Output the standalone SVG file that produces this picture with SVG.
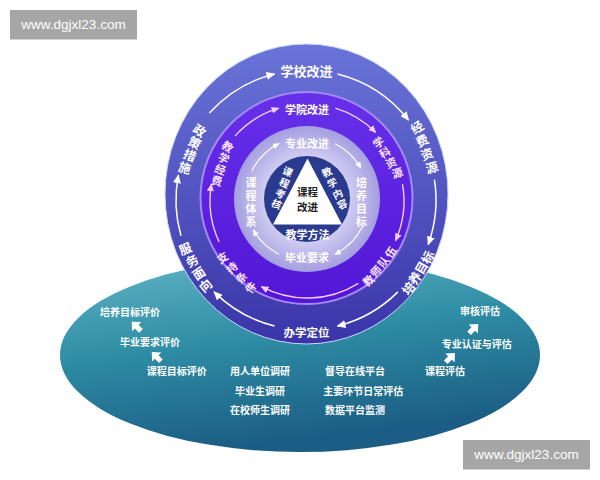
<svg xmlns="http://www.w3.org/2000/svg" width="600" height="480" viewBox="0 0 600 480">
<defs>
<style>
.t{font-family:"Noto Sans CJK SC","Noto Sans CJK JP",sans-serif;font-weight:700;text-anchor:middle;dominant-baseline:central;fill:#fff}
.o{font-size:12.5px}
.top{font-size:13px}
.p{font-size:11px;fill:#fbe4ff}
.l{font-size:11px}
.v{writing-mode:vertical-rl;letter-spacing:2px}
.i{font-size:10px}
.e{font-size:10px}
.wm{font-family:"Liberation Sans",Arial,sans-serif;font-size:13.5px;fill:#fff;text-anchor:middle;dominant-baseline:central}
.aw{fill:none;stroke:#fff;stroke-width:1.5;marker-end:url(#ah)}
.ap{fill:none;stroke:#f6ccff;stroke-width:1.4;marker-end:url(#ahp)}
.al{fill:none;stroke:#fff;stroke-width:1.2;marker-end:url(#ahl)}
.blk{fill:#fff}
</style>
<marker id="ah" markerUnits="userSpaceOnUse" markerWidth="9" markerHeight="8" refX="8" refY="4" orient="auto"><path d="M0,0 L9,4 L0,8 z" fill="#fff"/></marker>
<marker id="ahp" markerUnits="userSpaceOnUse" markerWidth="8" markerHeight="7" refX="7" refY="3.5" orient="auto"><path d="M0,0 L8,3.5 L0,7 z" fill="#f6ccff"/></marker>
<marker id="ahl" markerUnits="userSpaceOnUse" markerWidth="7" markerHeight="6" refX="6" refY="3" orient="auto"><path d="M0,0 L7,3 L0,6 z" fill="#fff"/></marker>
<linearGradient id="gTeal" x1="0" y1="0" x2="0.3" y2="1">
<stop offset="0" stop-color="#62b6c6"/>
<stop offset="0.5" stop-color="#2e8ca4"/>
<stop offset="1" stop-color="#1b5d84"/>
</linearGradient>
<linearGradient id="gOuter" x1="0" y1="0" x2="0" y2="1">
<stop offset="0" stop-color="#6a74d8"/>
<stop offset="1" stop-color="#3a34a8"/>
</linearGradient>
<linearGradient id="gPurple" x1="0" y1="0" x2="0" y2="1">
<stop offset="0" stop-color="#6630ea"/>
<stop offset="1" stop-color="#5316d6"/>
</linearGradient>
<radialGradient id="gLav" cx="307" cy="199" r="74" gradientUnits="userSpaceOnUse">
<stop offset="0.55" stop-color="#d2cff3"/>
<stop offset="1" stop-color="#a39ddf"/>
</radialGradient>
</defs>
<rect width="600" height="480" fill="#fff"/>

<g id="base-ellipse">
<ellipse cx="300" cy="355" rx="240" ry="97" fill="url(#gTeal)"/>
</g>

<g id="rings">
<ellipse cx="306.5" cy="194" rx="141.5" ry="150" fill="url(#gOuter)" stroke="#c9d6ff" stroke-width="1"/>
<circle cx="306.5" cy="198" r="106" fill="url(#gPurple)" stroke="#a58af2" stroke-width="2"/>
<circle cx="307" cy="199" r="73" fill="url(#gLav)"/>
<circle cx="307" cy="199" r="43" fill="#2a3a8f"/>
<polygon points="307.5,158.5 273,224.5 342,224.5" fill="#fff"/>
</g>

<g id="connectors">
<path class="aw" d="M209.4,113 A130,130 0 0 1 274.5,73.9"/>
<path class="aw" d="M337.5,73.9 A130,130 0 0 1 408.4,120"/>
<path class="aw" d="M434.4,179.7 A130,130 0 0 1 428.2,244.5"/>
<path class="aw" d="M397.9,291.9 A130,130 0 0 1 337.5,326.1"/>
<path class="aw" d="M274.5,326.1 A130,130 0 0 1 214.1,291.9"/>
<path class="aw" d="M181,235.8 A130,130 0 0 1 178.4,175.2"/>

<path class="ap" d="M234.9,136.1 A97,97 0 0 1 278.6,108.2"/>
<path class="ap" d="M335.4,108.2 A97,97 0 0 1 375.6,132.4"/>
<path class="ap" d="M402.5,184.2 A97,97 0 0 1 395.6,240.5"/>
<path class="ap" d="M358.4,283.3 A97,97 0 0 1 261.5,286.7"/>
<path class="ap" d="M219.1,242 A97,97 0 0 1 211.5,184.2"/>

<path class="al" d="M251.8,170.9 A62,62 0 0 1 278.9,143.8"/>
<path class="al" d="M335.1,143.8 A62,62 0 0 1 360.7,168"/>
<path class="al" d="M362.2,227.1 A62,62 0 0 1 335.1,254.2"/>
<path class="al" d="M278.9,254.2 A62,62 0 0 1 253.3,230"/>

<polygon class="blk" transform="translate(136.7 326.7) rotate(-45)" points="0,-7 6.5,0 2.6,0 2.6,6 -2.6,6 -2.6,0 -6.5,0"/>
<polygon class="blk" transform="translate(156.7 357) rotate(-45)" points="0,-7 6.5,0 2.6,0 2.6,6 -2.6,6 -2.6,0 -6.5,0"/>
<polygon class="blk" transform="translate(473.3 329) rotate(45)" points="0,-7 6.5,0 2.6,0 2.6,6 -2.6,6 -2.6,0 -6.5,0"/>
<polygon class="blk" transform="translate(450 358) rotate(45)" points="0,-7 6.5,0 2.6,0 2.6,6 -2.6,6 -2.6,0 -6.5,0"/>
</g>

<g id="node-xuexiao-gaijin"><text class="t top" x="306.5" y="70.5">学校改进</text></g>
<g id="node-jingfei-ziyuan">
<text class="t o" transform="translate(416.7 126.7) rotate(-33)">经</text>
<text class="t o" transform="translate(421.7 140) rotate(-27)">费</text>
<text class="t o" transform="translate(426.7 153.3) rotate(-21)">资</text>
<text class="t o" transform="translate(431.7 166.7) rotate(-15)">源</text>
</g>
<g id="node-peiyang-mubiao-outer">
<text class="t o" transform="translate(408 288) rotate(-50)">培</text>
<text class="t o" transform="translate(414.3 277.7) rotate(-55)">养</text>
<text class="t o" transform="translate(420.7 267.3) rotate(-60)">目</text>
<text class="t o" transform="translate(427 257) rotate(-64)">标</text>
</g>
<g id="node-banxue-dingwei"><text class="t" style="font-size:11.5px" x="306.5" y="332">办学定位</text></g>
<g id="node-fuwu-mianxiang">
<text class="t o" transform="translate(185 248) rotate(-22)">服</text>
<text class="t o" transform="translate(191.7 260.3) rotate(-28)">务</text>
<text class="t o" transform="translate(198.3 272.7) rotate(-34)">面</text>
<text class="t o" transform="translate(205 285) rotate(-40)">向</text>
</g>
<g id="node-zhengce-cuoshi">
<text class="t o" transform="translate(200 130) rotate(33)">政</text>
<text class="t o" transform="translate(195 142.3) rotate(27)">策</text>
<text class="t o" transform="translate(190 154.7) rotate(21)">措</text>
<text class="t o" transform="translate(185 167) rotate(15)">施</text>
</g>

<g id="node-xueyuan-gaijin"><text class="t l" x="307" y="109">学院改进</text></g>
<g id="node-xueke-ziyuan">
<text class="t p" transform="translate(378 142) rotate(-38)">学</text>
<text class="t p" transform="translate(384.3 152) rotate(-31)">科</text>
<text class="t p" transform="translate(390.7 162) rotate(-24)">资</text>
<text class="t p" transform="translate(397 172) rotate(-17)">源</text>
</g>
<g id="node-jiaoshi-duiwu">
<text class="t p" transform="translate(368 280) rotate(-40)">教</text>
<text class="t p" transform="translate(375.3 270.7) rotate(-46)">师</text>
<text class="t p" transform="translate(382.7 261.3) rotate(-52)">队</text>
<text class="t p" transform="translate(390 252) rotate(-58)">伍</text>
</g>
<g id="node-zhichi-tiaojian">
<text class="t p" transform="translate(222 257) rotate(-34)">支</text>
<text class="t p" transform="translate(231.3 267) rotate(-41)">持</text>
<text class="t p" transform="translate(240.7 277) rotate(-48)">条</text>
<text class="t p" transform="translate(250 287) rotate(-55)">件</text>
</g>
<g id="node-jiaoxue-jingfei">
<text class="t p" transform="translate(228 146) rotate(35)">教</text>
<text class="t p" transform="translate(224.3 157.3) rotate(28)">学</text>
<text class="t p" transform="translate(220.7 168.7) rotate(20)">经</text>
<text class="t p" transform="translate(217 180) rotate(13)">费</text>
</g>

<g id="node-zhuanye-gaijin"><text class="t l" x="307" y="142.5">专业改进</text></g>
<g id="node-peiyang-mubiao-inner">
<text class="t l v" x="361.5" y="203.5">培养目标</text>
</g>
<g id="node-biye-yaoqiu"><text class="t l" x="307" y="257">毕业要求</text></g>
<g id="node-kecheng-tixi">
<text class="t l v" x="251" y="203.5">课程体系</text>
</g>

<g id="node-kecheng-gaijin">
<text class="t" style="font-size:10.5px;fill:#1e1e1e" x="307.5" y="191">课程</text>
<text class="t" style="font-size:10.5px;fill:#1e1e1e" x="307.5" y="206.5">改进</text>
</g>
<g id="node-kecheng-kaohe">
<text class="t i" transform="translate(288 171) rotate(25)">课</text>
<text class="t i" transform="translate(284.7 182.3) rotate(25)">程</text>
<text class="t i" transform="translate(280.7 193) rotate(25)">考</text>
<text class="t i" transform="translate(277 203.5) rotate(25)">核</text>
</g>
<g id="node-jiaoxue-neirong">
<text class="t i" transform="translate(326.7 171.5) rotate(-25)">教</text>
<text class="t i" transform="translate(332 182.3) rotate(-25)">学</text>
<text class="t i" transform="translate(337.3 193.3) rotate(-25)">内</text>
<text class="t i" transform="translate(342 203.6) rotate(-25)">容</text>
</g>
<g id="node-jiaoxue-fangfa"><text class="t" style="font-size:11px" x="307.5" y="234">教学方法</text></g>

<g id="node-eval-left">
<text class="t e" x="130" y="311.7">培养目标评价</text>
<text class="t e" x="150" y="341.7">毕业要求评价</text>
<text class="t e" x="176.7" y="370.7">课程目标评价</text>
</g>
<g id="node-survey">
<text class="t e" x="260" y="370.7">用人单位调研</text>
<text class="t e" x="260" y="390">毕业生调研</text>
<text class="t e" x="260" y="409">在校师生调研</text>
</g>
<g id="node-monitor">
<text class="t e" x="355" y="370.7">督导在线平台</text>
<text class="t e" x="363.3" y="390">主要环节日常评估</text>
<text class="t e" x="355" y="409">数据平台监测</text>
</g>
<g id="node-eval-right">
<text class="t e" x="480" y="310.7">审核评估</text>
<text class="t e" x="476.7" y="343.3">专业认证与评估</text>
<text class="t e" x="445" y="370.7">课程评估</text>
</g>

<g id="watermark-top">
<rect x="10" y="10" width="127" height="29.5" fill="#a6a6a6"/>
<text class="wm" x="73.5" y="24.8">www.dgjxl23.com</text>
</g>
<g id="watermark-bottom">
<rect x="463" y="440" width="127" height="29.5" fill="#a6a6a6"/>
<text class="wm" x="526.5" y="454.8">www.dgjxl23.com</text>
</g>
</svg>
